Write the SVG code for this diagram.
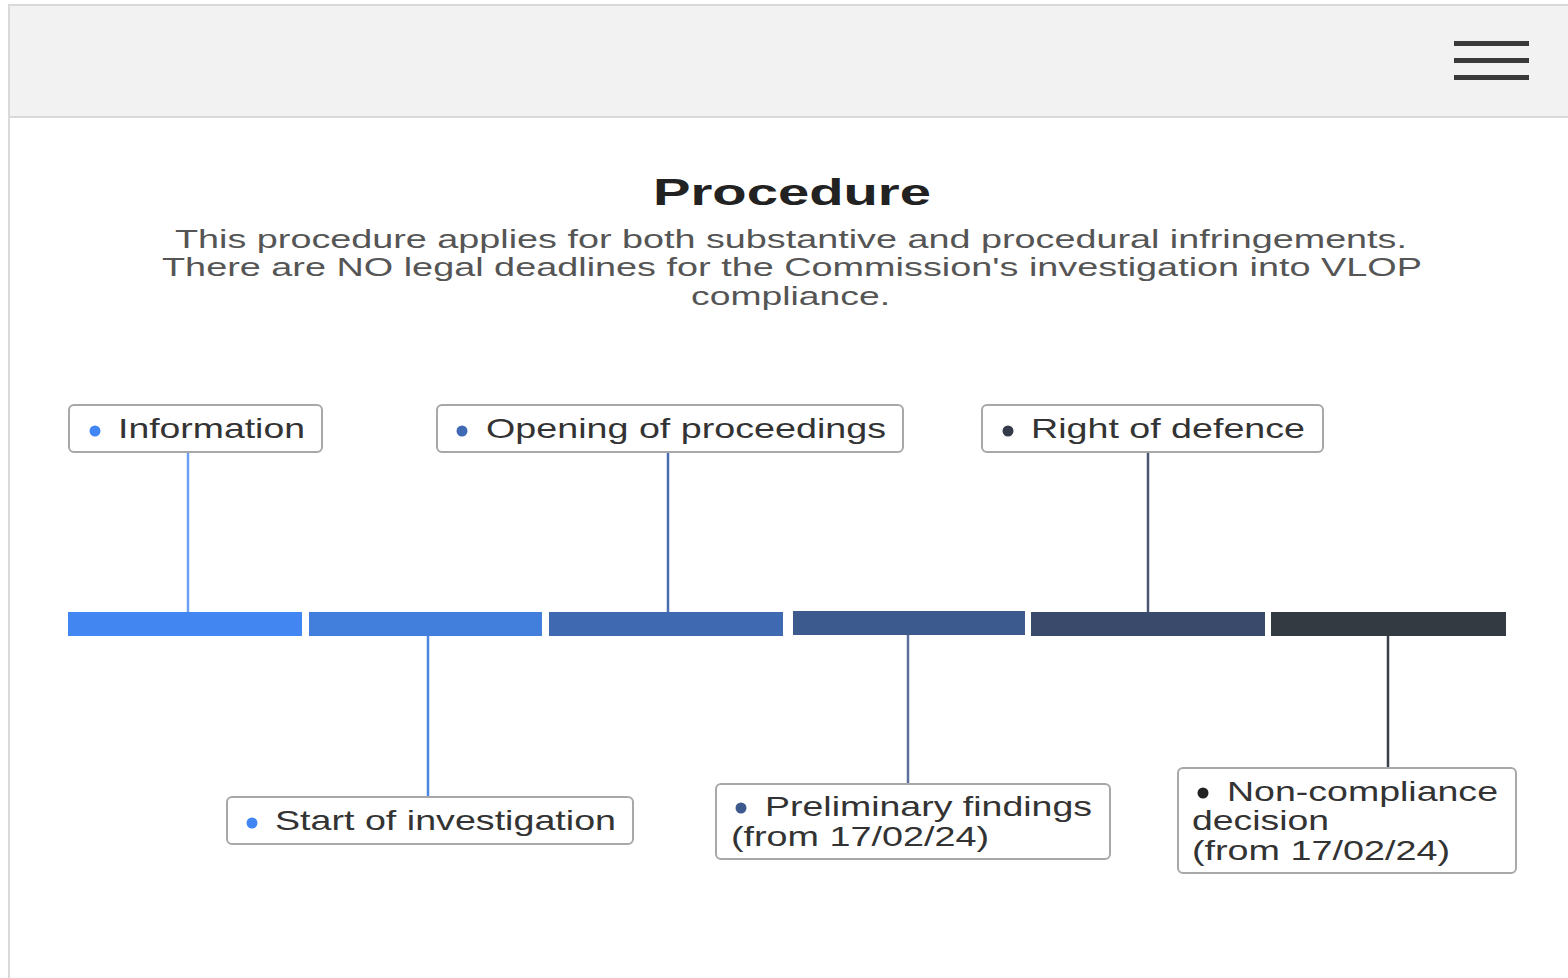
<svg xmlns="http://www.w3.org/2000/svg" width="1568" height="978" viewBox="0 0 1568 978">
<style>
.lbl{font-family:"Liberation Sans",Arial,sans-serif;font-size:28px;fill:#333}
.sub{font-family:"Liberation Sans",Arial,sans-serif;font-size:26px;fill:#555}
.ttl{font-family:"Liberation Sans",Arial,sans-serif;font-size:37px;font-weight:bold;fill:#222}
.box{fill:#fff;stroke:#a8a8a8;stroke-width:2}
.con{stroke-width:2.5;fill:none}
.bar{stroke:none}
</style>
<rect x="0" y="0" width="1568" height="978" fill="#fff"/>
<g id="header">
<rect x="9" y="5" width="1570" height="112" fill="#f2f2f2" stroke="#d9d9d9" stroke-width="2"/>
<line x1="9" y1="117" x2="9" y2="978" stroke="#d9d9d9" stroke-width="2"/>
<rect x="1454" y="41" width="75" height="5" fill="#3a3a3a"/>
<rect x="1454" y="58" width="75" height="5" fill="#3a3a3a"/>
<rect x="1454" y="75" width="75" height="5" fill="#3a3a3a"/>
</g>
<g id="title">
<text class="ttl" x="653" y="205" textLength="278" lengthAdjust="spacingAndGlyphs">Procedure</text>
<text class="sub" x="175" y="248" textLength="1232" lengthAdjust="spacingAndGlyphs">This procedure applies for both substantive and procedural infringements.</text>
<text class="sub" x="162" y="276" textLength="1260" lengthAdjust="spacingAndGlyphs">There are NO legal deadlines for the Commission's investigation into VLOP</text>
<text class="sub" x="691" y="305" textLength="199" lengthAdjust="spacingAndGlyphs">compliance.</text>
</g>
<g id="connectors">
<line class="con" x1="188" y1="452" x2="188" y2="612" stroke="#6d9ff2"/>
<line class="con" x1="428" y1="636" x2="428" y2="797" stroke="#4a86e0"/>
<line class="con" x1="668" y1="452" x2="668" y2="612" stroke="#4a6db0"/>
<line class="con" x1="908" y1="635" x2="908" y2="784" stroke="#5a6f9c"/>
<line class="con" x1="1148" y1="452" x2="1148" y2="612" stroke="#4b5570"/>
<line class="con" x1="1388" y1="636" x2="1388" y2="768" stroke="#3a3f48"/>
</g>
<g id="timeline">
<rect class="bar" x="68" y="612" width="234" height="24" fill="#4286f2"/>
<rect class="bar" x="309" y="612" width="233" height="24" fill="#427edb"/>
<rect class="bar" x="549" y="612" width="234" height="24" fill="#3f69b0"/>
<rect class="bar" x="793" y="611" width="232" height="24" fill="#3d5a8f"/>
<rect class="bar" x="1031" y="612" width="234" height="24" fill="#3a4a6a"/>
<rect class="bar" x="1271" y="612" width="235" height="24" fill="#343a42"/>
</g>
<g id="node-information">
<rect class="box" x="69" y="405" width="253" height="47" rx="5"/>
<circle cx="95" cy="431" r="5.5" fill="#4285f4"/>
<text class="lbl" x="118" y="438" textLength="187" lengthAdjust="spacingAndGlyphs">Information</text>
</g>
<g id="node-opening">
<rect class="box" x="437" y="405" width="466" height="47" rx="5"/>
<circle cx="462" cy="431" r="5.5" fill="#3f6ab3"/>
<text class="lbl" x="486" y="438" textLength="400" lengthAdjust="spacingAndGlyphs">Opening of proceedings</text>
</g>
<g id="node-defence">
<rect class="box" x="982" y="405" width="341" height="47" rx="5"/>
<circle cx="1008" cy="431" r="5.5" fill="#333a48"/>
<text class="lbl" x="1031" y="438" textLength="274" lengthAdjust="spacingAndGlyphs">Right of defence</text>
</g>
<g id="node-start">
<rect class="box" x="227" y="797" width="406" height="47" rx="5"/>
<circle cx="252" cy="823" r="5.5" fill="#4285f4"/>
<text class="lbl" x="275" y="830" textLength="341" lengthAdjust="spacingAndGlyphs">Start of investigation</text>
</g>
<g id="node-preliminary">
<rect class="box" x="716" y="784" width="394" height="75" rx="5"/>
<circle cx="741" cy="808" r="5.5" fill="#3d5a8f"/>
<text class="lbl" x="765" y="816" textLength="327" lengthAdjust="spacingAndGlyphs">Preliminary findings</text>
<text class="lbl" x="731" y="846" textLength="258" lengthAdjust="spacingAndGlyphs">(from 17/02/24)</text>
</g>
<g id="node-noncompliance">
<rect class="box" x="1178" y="768" width="338" height="105" rx="5"/>
<circle cx="1203" cy="793" r="5.5" fill="#222"/>
<text class="lbl" x="1227" y="801" textLength="271" lengthAdjust="spacingAndGlyphs">Non-compliance</text>
<text class="lbl" x="1192" y="830" textLength="137" lengthAdjust="spacingAndGlyphs">decision</text>
<text class="lbl" x="1192" y="860" textLength="258" lengthAdjust="spacingAndGlyphs">(from 17/02/24)</text>
</g>
</svg>
